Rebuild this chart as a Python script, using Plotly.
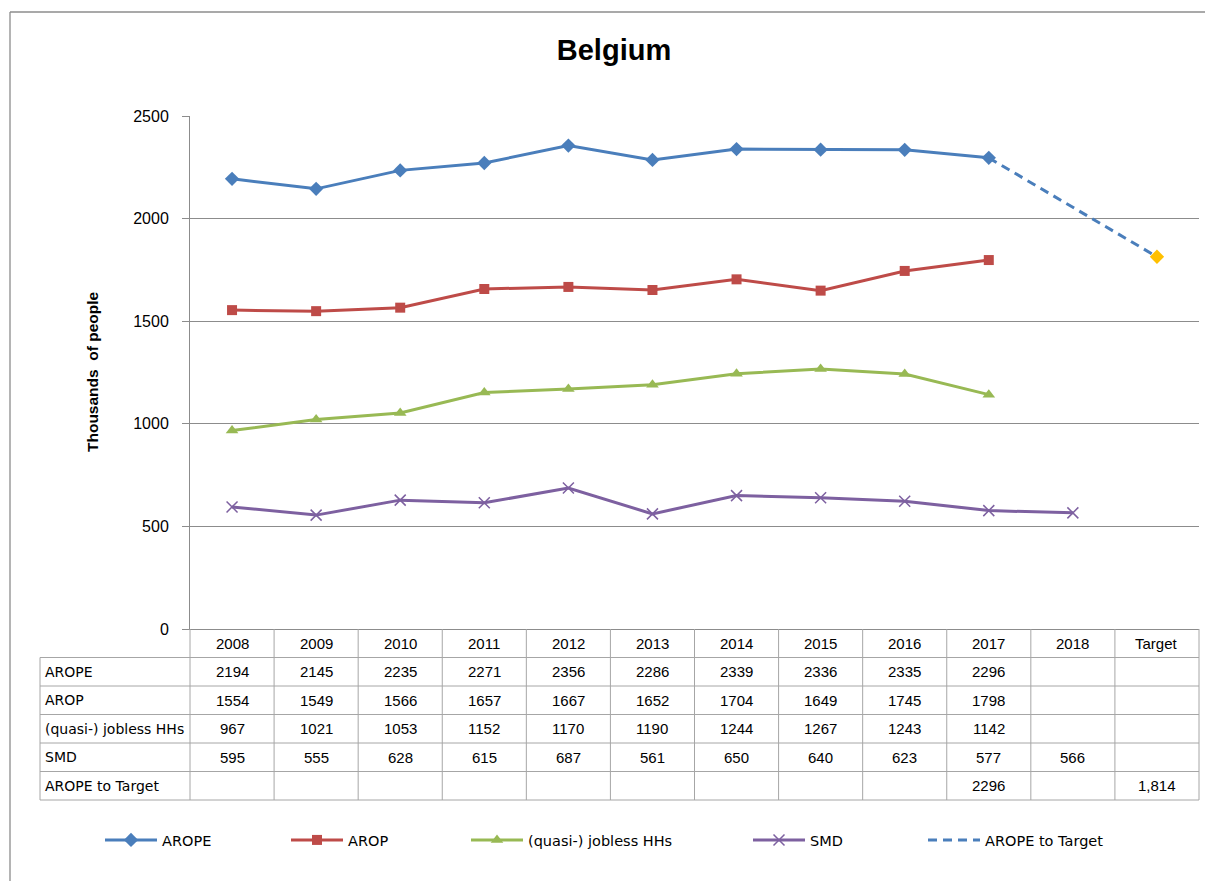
import plotly.graph_objects as go

# ---------------- data ----------------
categories = ["2008", "2009", "2010", "2011", "2012", "2013", "2014", "2015", "2016", "2017", "2018", "Target"]
arope = [2194, 2145, 2235, 2271, 2356, 2286, 2339, 2336, 2335, 2296, None, None]
arop = [1554, 1549, 1566, 1657, 1667, 1652, 1704, 1649, 1745, 1798, None, None]
jobless = [967, 1021, 1053, 1152, 1170, 1190, 1244, 1267, 1243, 1142, None, None]
smd = [595, 555, 628, 615, 687, 561, 650, 640, 623, 577, 566, None]
arope_to_target = [None, None, None, None, None, None, None, None, None, 2296, None, 1814]

series_names = ["AROPE", "AROP", "(quasi-) jobless HHs", "SMD", "AROPE to Target"]
y_ticks = [0, 500, 1000, 1500, 2000, 2500]

# ---------------- geometry (pixels) ----------------
W, H = 1205, 881
L, R, T, B = 190, 6, 116, 252
PW, PH = W - L - R, H - T - B


def px_x(p):
    return (p - L) / PW


def px_y(p):
    return (H - B - p) / PH


FONT = "Liberation Sans"
LFONT = "DejaVu Sans"
BLUE = "#4a7ebb"
RED = "#be4b48"
GREEN = "#98b954"
PURPLE = "#7d60a0"
GOLD = "#ffc000"
GRID = "#8c8c8c"
TABLE = "#a6a6a6"

fig = go.Figure()

styles = [
    dict(color=BLUE, symbol="diamond", size=11),
    dict(color=RED, symbol="square", size=10),
    dict(color=GREEN, symbol="triangle-up", size=11),
    dict(color=PURPLE, symbol="x-thin", size=11),
]
data_rows = [arope, arop, jobless, smd]

legend_text_px = [162, 348, 528, 810, 985]
legend_ids = ["legend", "legend2", "legend3", "legend4", "legend5"]
ITEMW = 52

for k, (name, vals, st) in enumerate(zip(series_names[:4], data_rows, styles)):
    marker = dict(symbol=st["symbol"], size=st["size"], color=st["color"])
    if st["symbol"] == "x-thin":
        marker["line"] = dict(color=st["color"], width=1.5)
    fig.add_trace(go.Scatter(
        x=categories, y=vals, name=name, mode="lines+markers",
        line=dict(color=st["color"], width=3),
        marker=marker, legend=legend_ids[k], showlegend=True,
    ))

# AROPE to Target: dashed line (legend entry) + target marker
fig.add_trace(go.Scatter(
    x=categories, y=arope_to_target, name=series_names[4], mode="lines",
    connectgaps=True,
    line=dict(color=BLUE, width=3, dash="9px,6px"),
    legend=legend_ids[4], showlegend=True,
))
target_only = [v if c == "Target" else None for c, v in zip(categories, arope_to_target)]
fig.add_trace(go.Scatter(
    x=categories, y=target_only, name=series_names[4], mode="markers",
    marker=dict(symbol="diamond", size=11, color=GOLD), showlegend=False,
))

# ---------------- table (data table under the chart) ----------------
shapes = []
annotations = []
ncol = len(categories)
row_h = 28.5
top = H - B
table_left = 40
rows_vals = data_rows + [arope_to_target]
nrows = 1 + len(rows_vals)

for r in range(1, nrows + 1):
    yp = px_y(top + r * row_h)
    shapes.append(dict(type="line", xref="paper", yref="paper", x0=px_x(table_left), x1=1,
                       y0=yp, y1=yp, line=dict(color=TABLE, width=1)))
for j in range(ncol + 1):
    xp = j / ncol
    shapes.append(dict(type="line", xref="paper", yref="paper", x0=xp, x1=xp,
                       y0=0, y1=px_y(top + nrows * row_h), line=dict(color=TABLE, width=1)))
shapes.append(dict(type="line", xref="paper", yref="paper", x0=px_x(table_left), x1=px_x(table_left),
                   y0=px_y(top + row_h), y1=px_y(top + nrows * row_h), line=dict(color=TABLE, width=1)))

# outer chart border (left and top)
shapes.append(dict(type="line", xref="paper", yref="paper", x0=px_x(10), x1=px_x(10),
                   y0=px_y(12), y1=px_y(H + 5), line=dict(color="#8c8c8c", width=1.3)))
shapes.append(dict(type="line", xref="paper", yref="paper", x0=px_x(10), x1=px_x(W + 5),
                   y0=px_y(12), y1=px_y(12), line=dict(color="#8c8c8c", width=1.3)))

cell_font = dict(family=FONT, size=15, color="#000000")
label_font = dict(family=LFONT, size=14, color="#000000")
for j, c in enumerate(categories):
    annotations.append(dict(text=c, xref="paper", yref="paper", x=(j + 0.5) / ncol,
                            y=px_y(top + row_h / 2), showarrow=False, xanchor="center",
                            yanchor="middle", font=cell_font))
for r, (name, vals) in enumerate(zip(series_names, rows_vals), start=1):
    yc = px_y(top + r * row_h + row_h / 2)
    annotations.append(dict(text=name, xref="paper", yref="paper", x=px_x(table_left + 3), y=yc,
                            showarrow=False, xanchor="left", yanchor="middle", font=label_font))
    for j, v in enumerate(vals):
        if v is None:
            continue
        txt = f"{v:,}" if (r == len(series_names) and categories[j] == "Target") else str(v)
        annotations.append(dict(text=txt, xref="paper", yref="paper", x=(j + 0.5) / ncol, y=yc,
                                showarrow=False, xanchor="center", yanchor="middle", font=cell_font))

# y-axis title
annotations.append(dict(text="<b>Thousands  of people</b>", xref="paper", yref="paper",
                        x=px_x(92), y=px_y(372), textangle=-90, showarrow=False,
                        xanchor="center", yanchor="middle",
                        font=dict(family=FONT, size=15.5, color="#000000")))

layout = dict(
    width=W, height=H,
    margin=dict(l=L, r=R, t=T, b=B, pad=0),
    paper_bgcolor="white", plot_bgcolor="white",
    showlegend=True,
    title=dict(text="<b>Belgium</b>", x=614 / W, xref="container", xanchor="center",
               y=1 - 50 / H, yref="container", yanchor="middle",
               font=dict(family=FONT, size=29, color="#000000")),
    xaxis=dict(type="category", range=[-0.5, ncol - 0.5], showticklabels=False, ticks="",
               showgrid=False, showline=True, linecolor=GRID, linewidth=1, zeroline=False,
               fixedrange=True),
    yaxis=dict(range=[0, 2500], tickvals=y_ticks, ticks="outside", ticklen=7, tickcolor=GRID,
               showgrid=True, gridcolor=GRID, gridwidth=1, showline=True, linecolor=GRID,
               zeroline=False, ticklabelstandoff=10, fixedrange=True,
               tickfont=dict(family=FONT, size=16, color="#000000")),
    shapes=shapes, annotations=annotations,
    hovermode="closest",
)
for k, lid in enumerate(legend_ids):
    layout[lid] = dict(x=px_x(legend_text_px[k] - ITEMW - 10), y=px_y(840), xanchor="left",
                       yanchor="middle", orientation="h", bgcolor="rgba(0,0,0,0)", borderwidth=0,
                       itemwidth=ITEMW,
                       font=dict(family=LFONT, size=14.5, color="#000000"))
fig.update_layout(**layout)

fig.write_html("out.html", config={"displayModeBar": False},
               post_script="document.body.style.margin='0';")
